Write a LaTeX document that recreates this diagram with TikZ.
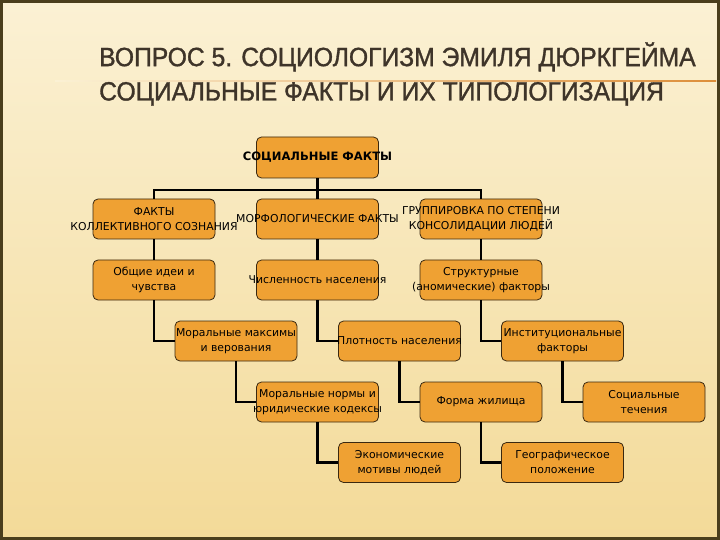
\documentclass[tikz,border=0pt]{standalone}
\usepackage{fontspec}
\setmainfont{DejaVu Sans}
\newfontfamily\zagfont[FakeStretch=0.935,FakeBold=1.2]{Liberation Sans}

\definecolor{fonverh}{HTML}{FBF1D4}
\definecolor{fonniz}{HTML}{F3DA98}
\definecolor{ramka}{HTML}{4A3E1C}
\definecolor{oranzh}{HTML}{EFA133}
\definecolor{kontur}{HTML}{3A2810}
\definecolor{zagcvet}{HTML}{3E3429}
\definecolor{zoloto}{HTML}{DD8E3A}
\newcommand{\st}[1]{\makebox[0pt]{#1}}

\begin{document}
\begin{tikzpicture}[x=1bp,y=-1bp,line cap=round]
	\tikzstyle{blok}=[draw=kontur,fill=oranzh,line width=.8bp,rounded corners=5bp,minimum width=122bp,minimum height=40bp,inner sep=0pt,align=center,font=\fontsize{10.9}{15}\selectfont];
	\tikzstyle{svyaz}=[line width=2.6bp,black,line cap=butt];
	%% background
	\useasboundingbox (0,0) rectangle (720,540);
	\shade[top color=fonverh,bottom color=fonniz] (0,0) rectangle (720,540);
	\draw[ramka,line width=3bp] (1.5,1.5) rectangle (718.5,538.5);
	\shade[left color=fonverh,right color=zoloto] (55,80.3) rectangle (716,81.7);
	%% title
	\node[anchor=west,align=left,inner sep=0pt,text=zagcvet,font=\zagfont\fontsize{26.5}{34.5}\selectfont] (zag) at (99,74) {ВОПРОС 5. СОЦИОЛОГИЗМ ЭМИЛЯ ДЮРКГЕЙМА\\СОЦИАЛЬНЫЕ ФАКТЫ И ИХ ТИПОЛОГИЗАЦИЯ};
	%% boxes
	\node[blok,minimum height=41bp,font=\bfseries\fontsize{11.6}{15}\selectfont] (sf) at (317.5,157.5) {\st{СОЦИАЛЬНЫЕ ФАКТЫ}};
	\node[blok] (kol)    at (154,219)   {\st{ФАКТЫ}\\\st{КОЛЛЕКТИВНОГО СОЗНАНИЯ}};
	\node[blok] (mor)    at (317.5,219) {\st{МОРФОЛОГИЧЕСКИЕ ФАКТЫ}};
	\node[blok] (grup)   at (481,219)   {\st{ГРУППИРОВКА ПО СТЕПЕНИ}\\\st{КОНСОЛИДАЦИИ ЛЮДЕЙ}};
	\node[blok] (idei)   at (154,280)   {\st{Общие идеи и}\\\st{чувства}};
	\node[blok] (chisl)  at (317.5,280) {\st{Численность населения}};
	\node[blok] (strukt) at (481,280)   {\st{Структурные}\\\st{(аномические) факторы}};
	\node[blok] (maks)   at (236,341)   {\st{Моральные максимы}\\\st{и верования}};
	\node[blok] (plot)   at (399.5,341) {\st{Плотность населения}};
	\node[blok] (inst)   at (562.5,341) {\st{Институциональные}\\\st{факторы}};
	\node[blok] (norm)   at (317.5,402) {\st{Моральные нормы и}\\\st{юридические кодексы}};
	\node[blok] (forma)  at (481,402)   {\st{Форма жилища}};
	\node[blok] (tech)   at (644,402)   {\st{Социальные}\\\st{течения}};
	\node[blok] (ekon)   at (399.5,462.5) {\st{Экономические}\\\st{мотивы людей}};
	\node[blok] (geo)    at (562.5,462.5) {\st{Географическое}\\\st{положение}};
	%% connectors
	\coordinate (shina) at (317.5,190);
	\draw[svyaz] (sf) -- (shina);
	\draw[svyaz] (shina) -| (kol);
	\draw[svyaz] (shina) -- (mor);
	\draw[svyaz] (shina) -| (grup);
	\draw[svyaz] (kol)  -- (idei);
	\draw[svyaz] (mor)  -- (chisl);
	\draw[svyaz] (grup) -- (strukt);
	\draw[svyaz] (idei)   |- (maks);
	\draw[svyaz] (chisl)  |- (plot);
	\draw[svyaz] (strukt) |- (inst);
	\draw[svyaz] (maks)   |- (norm);
	\draw[svyaz] (plot)   |- (forma);
	\draw[svyaz] (inst)   |- (tech);
	\draw[svyaz] (norm)   |- (ekon);
	\draw[svyaz] (forma)  |- (geo);
\end{tikzpicture}
\end{document}
